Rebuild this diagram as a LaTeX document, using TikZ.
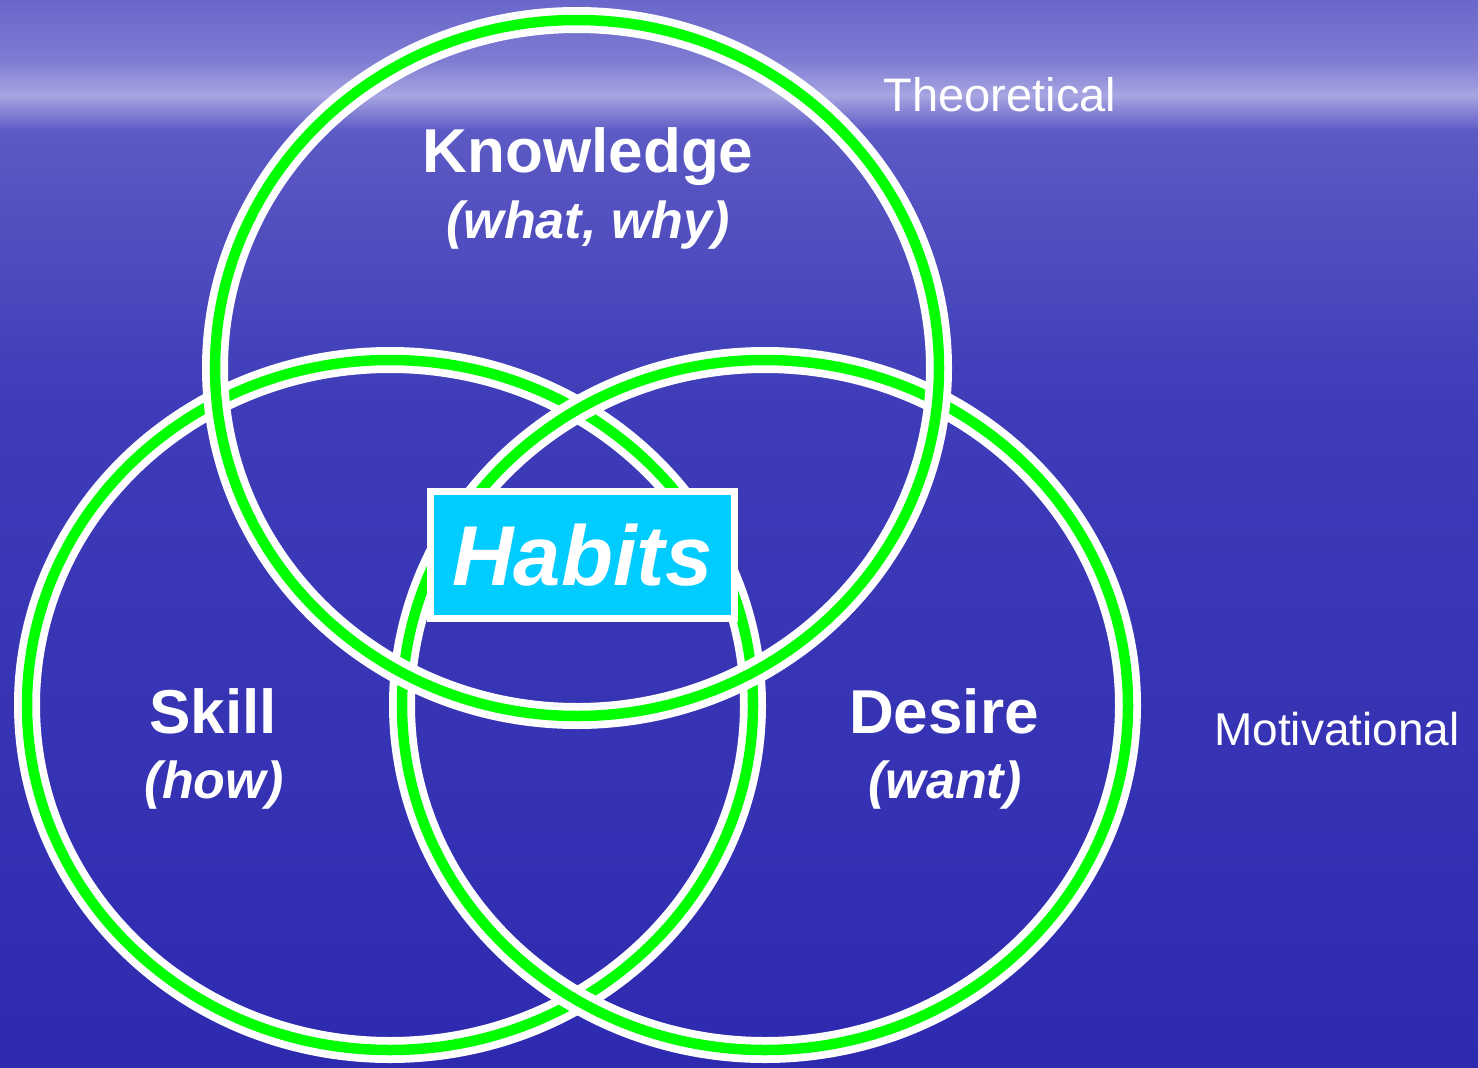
\documentclass[tikz,border=0pt]{standalone}
\usepackage{fontspec}
\setmainfont{Liberation Sans}
\definecolor{grn}{RGB}{0,255,0}
\definecolor{hab}{RGB}{0,204,255}
\definecolor{bgA}{RGB}{104,102,202}
\definecolor{bgB}{RGB}{126,124,210}
\definecolor{bgC}{RGB}{168,166,226}
\definecolor{bgD}{RGB}{92,90,196}
\definecolor{bgE}{RGB}{62,60,184}
\definecolor{bgF}{RGB}{46,42,176}
\newcommand\fsz[1]{\fontsize{#1pt}{#1pt}\selectfont}
\tikzset{
  ringw/.style={draw=white,line width=26pt},
  ringg/.style={draw=grn,line width=10.5pt},
  lbl/.style={text=white,inner sep=0pt,anchor=base},
  habbox/.style={fill=hab,draw=white,line width=7pt,minimum width=304pt,minimum height=127pt,inner sep=0pt,text=white}
}
\begin{document}
\begin{tikzpicture}[x=1pt,y=-1pt]
\useasboundingbox (0,0) rectangle (1478,1068);
% background
\shade[top color=bgA,bottom color=bgB] (-1,-1) rectangle (1479,61);
\shade[top color=bgB,bottom color=bgC] (-1,60) rectangle (1479,96);
\shade[top color=bgC,bottom color=bgD] (-1,95) rectangle (1479,131);
\shade[top color=bgD,bottom color=bgE] (-1,130) rectangle (1479,401);
\shade[top color=bgE,bottom color=bgF] (-1,400) rectangle (1479,1069);
% circles: Skill, Desire, Knowledge
\draw[ringw] (390,705) ellipse [x radius=363pt, y radius=345pt];
\draw[ringg] (390,705) ellipse [x radius=363pt, y radius=345pt];
\draw[ringw] (765,705) ellipse [x radius=363pt, y radius=345pt];
\draw[ringg] (765,705) ellipse [x radius=363pt, y radius=345pt];
\draw[ringw] (577,368) ellipse [x radius=362pt, y radius=348pt];
\draw[ringg] (577,368) ellipse [x radius=362pt, y radius=348pt];
% labels
\node[lbl] (know) at (588,172) {\fsz{62}\bfseries Knowledge};
\node[lbl] (knowsub) at (588,238) {\fsz{52}\bfseries\itshape (what, why)};
\node[lbl] (skill) at (213,733) {\fsz{62}\bfseries Skill};
\node[lbl] (skillsub) at (214,798) {\fsz{52}\bfseries\itshape (how)};
\node[lbl] (desire) at (944,733) {\fsz{62}\bfseries Desire};
\node[lbl] (desiresub) at (945,798) {\fsz{52}\bfseries\itshape (want)};
\node[lbl] (theo) at (1000,111) {\fsz{47}Theoretical};
\node[lbl] (motiv) at (1337,745) {\fsz{46}Motivational};
% habits box
\node[habbox] (habits) at (582.5,555) {\fsz{85}\bfseries\itshape Habits};
\end{tikzpicture}
\end{document}
